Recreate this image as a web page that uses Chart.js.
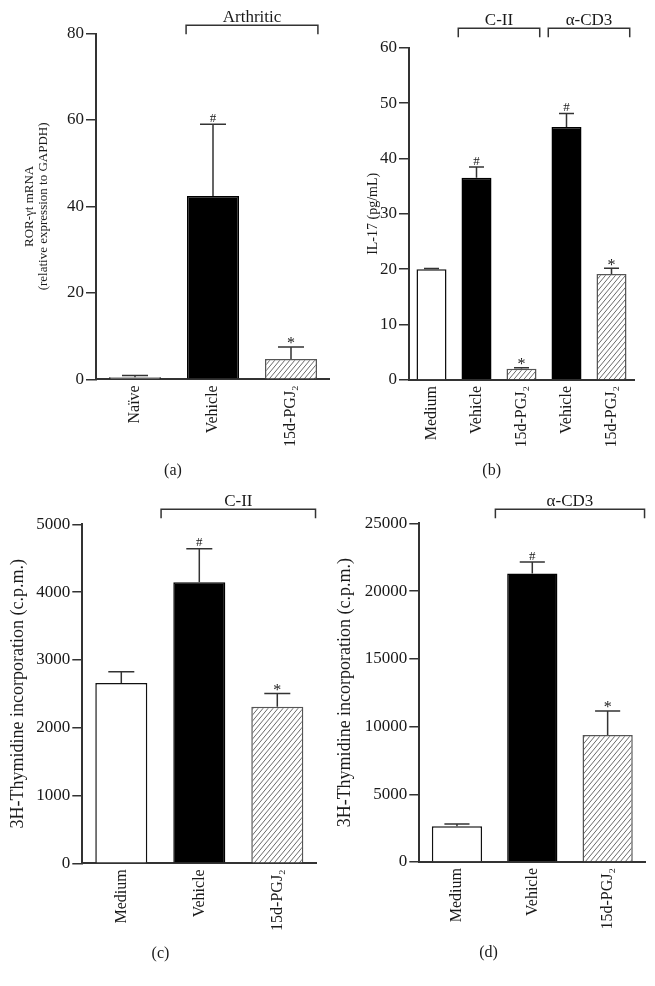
<!DOCTYPE html>
<html>
<head>
<meta charset="utf-8">
<title>Figure</title>
<script src="https://cdn.jsdelivr.net/npm/chart.js@4.4.1/dist/chart.umd.min.js"></script>
<style>
  html, body { margin: 0; padding: 0; background: #ffffff; }
  #fig { position: relative; width: 655px; height: 986px; overflow: hidden; background: #ffffff; }
  .panel { position: absolute; }
</style>
</head>
<body>
<div id="fig">
  <div class="panel" style="left:0px;top:0px;width:330px;height:490px;"><canvas id="chartA"></canvas></div>
  <div class="panel" style="left:330px;top:0px;width:325px;height:490px;"><canvas id="chartB"></canvas></div>
  <div class="panel" style="left:0px;top:490px;width:330px;height:496px;"><canvas id="chartC"></canvas></div>
  <div class="panel" style="left:330px;top:490px;width:325px;height:496px;"><canvas id="chartD"></canvas></div>
</div>
<script>
// ---------- Panel (a): ROR-γt mRNA ----------
const catsA = ['Naïve', 'Vehicle', '15d-PGJ₂'];
const meanA = [0.5, 42.4, 4.7];
const semA = [0.4, 16.6, 2.8];
const sigA = ['', '#', '*'];
const ticksA = [0, 20, 40, 60, 80];
const groupNamesA = ['Arthritic'];
const groupFromA = [1];
const groupToA = [2];

// ---------- Panel (b): IL-17 ----------
const catsB = ['Medium', 'Vehicle', '15d-PGJ₂', 'Vehicle', '15d-PGJ₂'];
const meanB = [20.0, 36.5, 2.05, 45.7, 19.15];
const semB = [0.15, 1.95, 0.15, 2.4, 1.05];
const sigB = ['', '#', '*', '#', '*'];
const ticksB = [0, 10, 20, 30, 40, 50, 60];
const groupNamesB = ['C-II', 'α-CD3'];
const groupFromB = [1, 3];
const groupToB = [2, 4];

// ---------- Panel (c): 3H-Thymidine, C-II ----------
const catsC = ['Medium', 'Vehicle', '15d-PGJ₂'];
const meanC = [2660, 4145, 2310];
const semC = [165, 495, 195];
const sigC = ['', '#', '*'];
const ticksC = [0, 1000, 2000, 3000, 4000, 5000];
const groupNamesC = ['C-II'];
const groupFromC = [1];
const groupToC = [2];

// ---------- Panel (d): 3H-Thymidine, α-CD3 ----------
const catsD = ['Medium', 'Vehicle', '15d-PGJ₂'];
const meanD = [2640, 21300, 9380];
const semD = [170, 840, 1770];
const sigD = ['', '#', '*'];
const ticksD = [0, 5000, 10000, 15000, 20000, 25000];
const groupNamesD = ['α-CD3'];
const groupFromD = [1];
const groupToD = [2];

// ---------- styling ----------
const FONT = "'Liberation Serif', 'Times New Roman', serif";
const AXIS = '#333333';
const TXT = '#1a1a1a';
Chart.defaults.font.family = FONT;
Chart.defaults.color = TXT;

function makeHatch() {
  const w = 5, h = 6;
  const c = document.createElement('canvas');
  c.width = w; c.height = h;
  const g = c.getContext('2d');
  g.fillStyle = '#ffffff';
  g.fillRect(0, 0, w, h);
  g.strokeStyle = '#6a6a6a';
  g.lineWidth = 1;
  [-w, 0, w].forEach(dx => {
    g.beginPath();
    g.moveTo(dx - w, 2 * h);
    g.lineTo(dx + 2 * w, -h);
    g.stroke();
  });
  return g.createPattern(c, 'repeat');
}
const HATCH = makeHatch();

function fillFor(label) {
  if (label === 'Vehicle') return '#000000';
  if (label.indexOf('15d') === 0) return HATCH;
  return '#ffffff';
}
function borderFor(label) {
  if (label === 'Vehicle') return '#000000';
  if (label.indexOf('15d') === 0) return '#555555';
  return '#111111';
}

function annotations(o) {
  return {
    id: 'annot',
    afterDatasetsDraw(chart) {
      const ctx = chart.ctx;
      const xs = chart.scales.x, ys = chart.scales.y;
      const meta = chart.getDatasetMeta(0);
      const vals = chart.data.datasets[0].data;
      ctx.save();
      ctx.strokeStyle = AXIS;
      ctx.lineWidth = 1.5;
      meta.data.forEach((bar, i) => {
        const yTop = ys.getPixelForValue(vals[i] + o.sem[i]);
        const half = bar.width * 0.25;
        ctx.beginPath();
        ctx.moveTo(bar.x, bar.y);
        ctx.lineTo(bar.x, yTop);
        ctx.moveTo(bar.x - half, yTop);
        ctx.lineTo(bar.x + half, yTop);
        ctx.stroke();
        const m = o.sig[i];
        if (m) {
          ctx.fillStyle = TXT;
          ctx.textAlign = 'center';
          ctx.textBaseline = 'alphabetic';
          if (m === '*') {
            ctx.font = '16px ' + FONT;
            ctx.fillText(m, bar.x, yTop + 1.5);
          } else {
            ctx.font = '13px ' + FONT;
            ctx.fillText(m, bar.x, yTop - 2.5);
          }
        }
      });
      const step = xs.getPixelForValue(1) - xs.getPixelForValue(0);
      const yb = chart.chartArea.top - o.gap;
      o.names.forEach((name, k) => {
        const x0 = xs.getPixelForValue(o.from[k]) - step * o.span / 2;
        const x1 = xs.getPixelForValue(o.to[k]) + step * o.span / 2;
        ctx.beginPath();
        ctx.moveTo(x0, yb + 9);
        ctx.lineTo(x0, yb);
        ctx.lineTo(x1, yb);
        ctx.lineTo(x1, yb + 9);
        ctx.stroke();
        ctx.fillStyle = TXT;
        ctx.font = '17px ' + FONT;
        ctx.textAlign = 'center';
        ctx.textBaseline = 'alphabetic';
        ctx.fillText(name, (x0 + x1) / 2, yb - 3);
      });
      ctx.restore();
    }
  };
}

function panel(id, P) {
  return new Chart(document.getElementById(id), {
    type: 'bar',
    data: {
      labels: P.cats,
      datasets: [{
        data: P.mean,
        backgroundColor: P.cats.map(fillFor),
        borderColor: P.cats.map(borderFor),
        borderWidth: 1.5,
        barPercentage: 0.667,
        categoryPercentage: 1.0
      }]
    },
    options: {
      responsive: true,
      maintainAspectRatio: false,
      animation: false,
      events: [],
      layout: { padding: { left: P.pl, right: P.pr, top: P.pt, bottom: 0 } },
      plugins: {
        legend: { display: false },
        tooltip: { enabled: false },
        title: {
          display: true,
          text: P.letter,
          position: 'bottom',
          color: TXT,
          font: { size: 16, weight: 'normal', lineHeight: 1 },
          padding: { top: 0, bottom: P.tpb }
        }
      },
      scales: {
        x: {
          afterFit: s => { s.height = P.xH; },
          border: { display: true, color: AXIS, width: 2 },
          grid: { display: false, drawTicks: false },
          ticks: { color: TXT, font: { size: 16 }, padding: 6, minRotation: 90, maxRotation: 90, autoSkip: false }
        },
        y: {
          min: P.ticks[0],
          max: P.ticks[P.ticks.length - 1],
          afterBuildTicks: s => { s.ticks = P.ticks.map(v => ({ value: v })); },
          afterFit: s => { s.width = P.yW; },
          border: { display: true, color: AXIS, width: 2 },
          grid: { display: true, drawOnChartArea: false, drawTicks: true, tickLength: 10, color: AXIS, lineWidth: 1.5 },
          ticks: { color: TXT, font: { size: 17 }, padding: 2, callback: v => String(v) },
          title: {
            display: true,
            text: P.ytitle,
            color: TXT,
            font: { size: P.ytSize, lineHeight: 1.05 },
            padding: { top: P.ytPad, bottom: 0 }
          }
        }
      }
    },
    plugins: [annotations(P)]
  });
}

panel('chartA', {
  cats: catsA, mean: meanA, sem: semA, sig: sigA, ticks: ticksA,
  names: groupNamesA, from: groupFromA, to: groupToA,
  ytitle: ['ROR-γt mRNA', '(relative expression to GAPDH)'], letter: '(a)',
  pl: 16, pr: 0, pt: 33.5, yW: 80, xH: 83.7, tpb: 11, ytSize: 13, ytPad: 6.7, gap: 8.2, span: 0.69
});
panel('chartB', {
  cats: catsB, mean: meanB, sem: semB, sig: sigB, ticks: ticksB,
  names: groupNamesB, from: groupFromB, to: groupToB,
  ytitle: 'IL-17 (pg/mL)', letter: '(b)',
  pl: 19.4, pr: 21, pt: 47.7, yW: 59.6, xH: 83, tpb: 11, ytSize: 14, ytPad: 16.25, gap: 19.4, span: 0.81
});
panel('chartC', {
  cats: catsC, mean: meanC, sem: semC, sig: sigC, ticks: ticksC,
  names: groupNamesC, from: groupFromC, to: groupToC,
  ytitle: '3H-Thymidine incorporation (c.p.m.)', letter: '(c)',
  pl: 4.7, pr: 13.7, pt: 34.3, yW: 77.6, xH: 82.2, tpb: 24.5, ytSize: 18, ytPad: 3.85, gap: 15, span: 0.98
});
panel('chartD', {
  cats: catsD, mean: meanD, sem: semD, sig: sigD, ticks: ticksD,
  names: groupNamesD, from: groupFromD, to: groupToD,
  ytitle: '3H-Thymidine incorporation (c.p.m.)', letter: '(d)',
  pl: 1.7, pr: 9.7, pt: 33.3, yW: 87.6, xH: 82.5, tpb: 25.5, ytSize: 18, ytPad: 3.85, gap: 14, span: 0.98
});
</script>
</body>
</html>
